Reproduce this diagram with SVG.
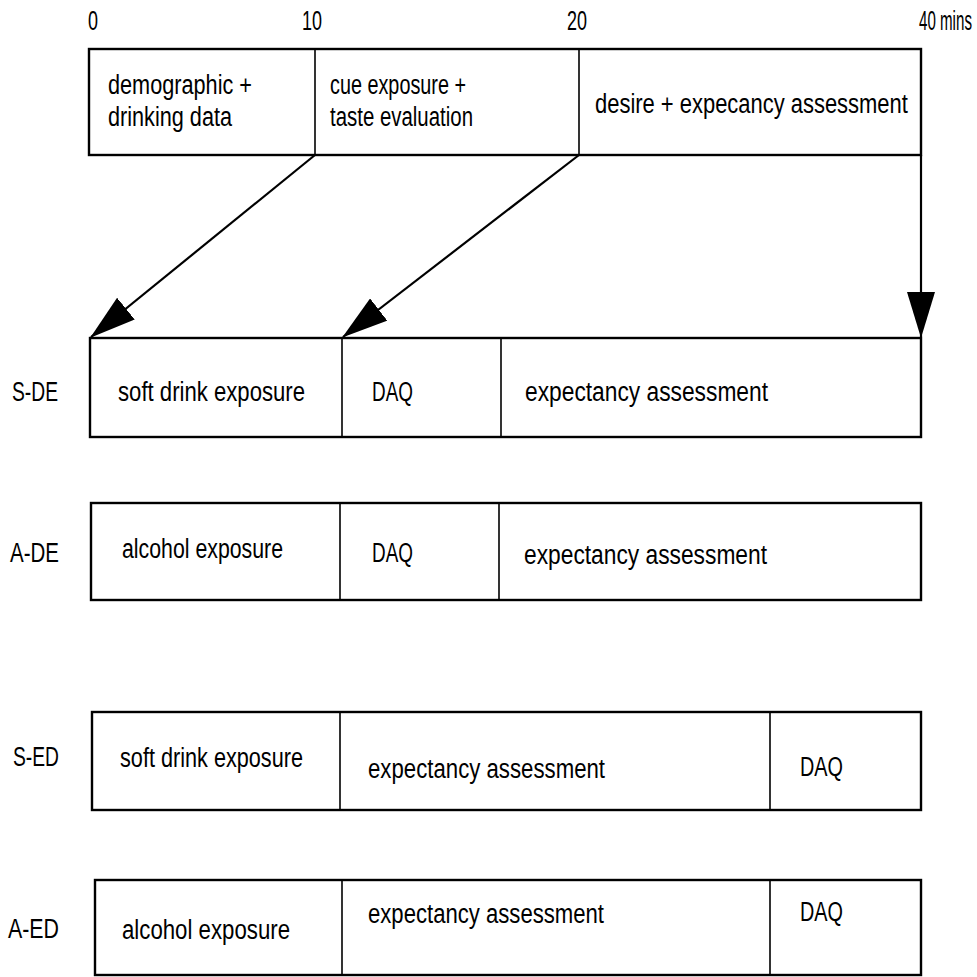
<svg xmlns="http://www.w3.org/2000/svg" width="977" height="977" viewBox="0 0 977 977">
<style>
text{font-family:"Liberation Sans",Arial,sans-serif;font-size:27px;fill:#000}
.lbl{font-size:28px}
.box{fill:#fff;stroke:#000;stroke-width:2.4}
.div{stroke:#000;stroke-width:1.6;fill:none}
.arr{stroke:#000;stroke-width:2.2;fill:none;marker-end:url(#ah)}
</style>
<defs>
<marker id="ah" markerUnits="userSpaceOnUse" viewBox="0 0 46 28" refX="45" refY="14" markerWidth="46" markerHeight="28" orient="auto">
<path d="M0,0 L46,14 L0,28 z" fill="#000"/>
</marker>
</defs>
<rect width="977" height="977" fill="#fff"/>
<g id="timeline">
<text class="lbl" x="88" y="30" textLength="10" lengthAdjust="spacingAndGlyphs">0</text>
<text class="lbl" x="302" y="30" textLength="20" lengthAdjust="spacingAndGlyphs">10</text>
<text class="lbl" x="567" y="30" textLength="20" lengthAdjust="spacingAndGlyphs">20</text>
<text class="lbl" transform="translate(919,30) scale(0.54,1)" x="0" y="0">40 mins</text>
</g>
<g id="top">
<rect class="box" x="89" y="49" width="832" height="106"/>
<line class="div" x1="315" y1="49" x2="315" y2="155"/>
<line class="div" x1="579" y1="49" x2="579" y2="155"/>
<text x="108" y="94" textLength="144" lengthAdjust="spacingAndGlyphs">demographic +</text>
<text x="108" y="126" textLength="124" lengthAdjust="spacingAndGlyphs">drinking data</text>
<text x="330" y="94" textLength="136" lengthAdjust="spacingAndGlyphs">cue exposure +</text>
<text x="330" y="126" textLength="143" lengthAdjust="spacingAndGlyphs">taste evaluation</text>
<text transform="translate(595,113) scale(0.813,1)" x="0" y="0">desire + expecancy assessment</text>
</g>
<g id="connectors">
<line class="arr" x1="315" y1="155" x2="91" y2="337"/>
<line class="arr" x1="579" y1="155" x2="343" y2="337"/>
<line class="arr" x1="921" y1="155" x2="921" y2="337"/>
</g>
<g id="s-de">
<text class="lbl" x="12" y="401" textLength="46" lengthAdjust="spacingAndGlyphs">S-DE</text>
<rect class="box" x="90" y="338" width="831" height="99"/>
<line class="div" x1="342" y1="338" x2="342" y2="437"/>
<line class="div" x1="501" y1="338" x2="501" y2="437"/>
<text x="118" y="401" textLength="187" lengthAdjust="spacingAndGlyphs">soft drink exposure</text>
<text x="372" y="401" textLength="41" lengthAdjust="spacingAndGlyphs">DAQ</text>
<text x="525" y="401" textLength="243" lengthAdjust="spacingAndGlyphs">expectancy assessment</text>
</g>
<g id="a-de">
<text class="lbl" x="10" y="562" textLength="49" lengthAdjust="spacingAndGlyphs">A-DE</text>
<rect class="box" x="91" y="503" width="830" height="97"/>
<line class="div" x1="340" y1="503" x2="340" y2="600"/>
<line class="div" x1="499" y1="503" x2="499" y2="600"/>
<text x="122" y="558" textLength="161" lengthAdjust="spacingAndGlyphs">alcohol exposure</text>
<text x="372" y="562" textLength="41" lengthAdjust="spacingAndGlyphs">DAQ</text>
<text x="524" y="564" textLength="243" lengthAdjust="spacingAndGlyphs">expectancy assessment</text>
</g>
<g id="s-ed">
<text class="lbl" x="13" y="766" textLength="46" lengthAdjust="spacingAndGlyphs">S-ED</text>
<rect class="box" x="92" y="712" width="829" height="98"/>
<line class="div" x1="340" y1="712" x2="340" y2="810"/>
<line class="div" x1="770" y1="712" x2="770" y2="810"/>
<text x="120" y="767" textLength="183" lengthAdjust="spacingAndGlyphs">soft drink exposure</text>
<text x="368" y="778" textLength="237" lengthAdjust="spacingAndGlyphs">expectancy assessment</text>
<text x="800" y="776" textLength="43" lengthAdjust="spacingAndGlyphs">DAQ</text>
</g>
<g id="a-ed">
<text class="lbl" x="8" y="938" textLength="51" lengthAdjust="spacingAndGlyphs">A-ED</text>
<rect class="box" x="95" y="880" width="826" height="95"/>
<line class="div" x1="342" y1="880" x2="342" y2="975"/>
<line class="div" x1="770" y1="880" x2="770" y2="975"/>
<text x="122" y="939" textLength="168" lengthAdjust="spacingAndGlyphs">alcohol exposure</text>
<text x="368" y="923" textLength="236" lengthAdjust="spacingAndGlyphs">expectancy assessment</text>
<text x="800" y="921" textLength="43" lengthAdjust="spacingAndGlyphs">DAQ</text>
</g>
</svg>
